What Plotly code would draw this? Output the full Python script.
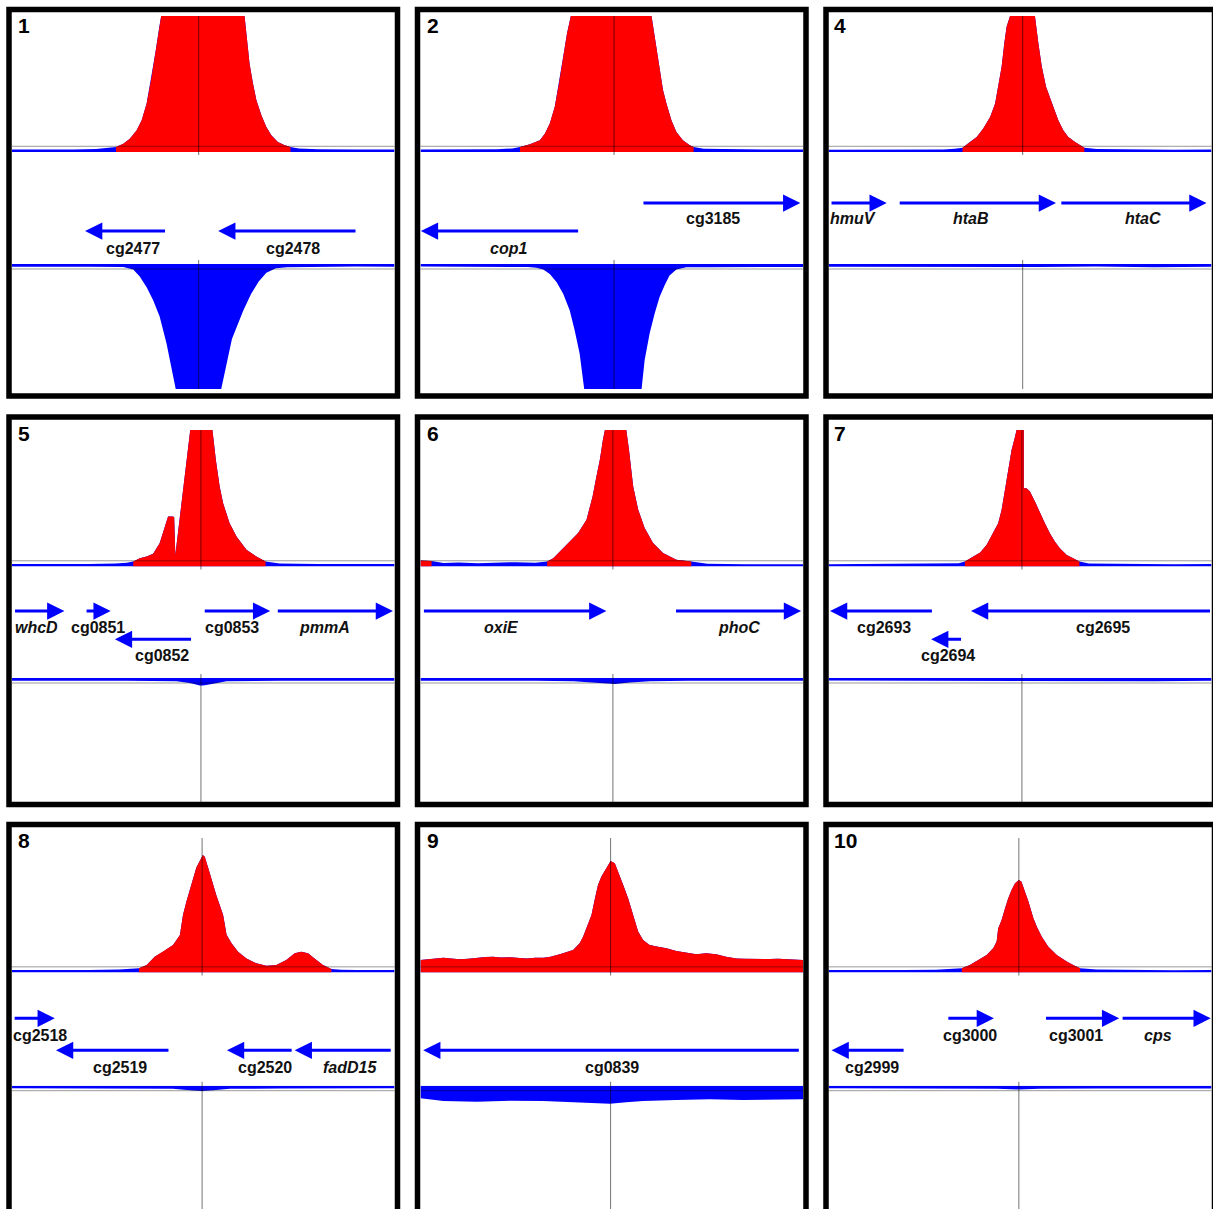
import plotly.graph_objects as go

W, H = 1213, 1209

# ---------------- DATA ----------------
# x = position inside the window (% of window width), y = signal (% of full scale; 100 = clipped)
PANEL_NUMBERS = ["1", "2", "4", "5", "6", "7", "8", "9", "10"]
CENTER_POS = [48.8, 50.6, 50.7, 49.4, 50.3, 50.5, 49.7, 49.7, 49.7]

P1_TOP_X = [0, 8, 16, 22, 26, 27.2, 29.1, 30.8, 32.6, 33.9, 35.2, 36.5, 37.6, 38.5, 39.0,
            60.8, 61.4, 62.1, 63.0, 63.9, 65.2, 66.5, 67.8, 69.5, 71.3, 72.8, 75, 80, 90, 100]
P1_TOP_Y = [1.8, 1.6, 1.8, 2.2, 3.0, 3.7, 6.1, 9.8, 16, 23.3, 35.6, 55.3, 75, 92, 100,
            100, 82.3, 65.1, 50.4, 38.1, 27, 18.4, 12.3, 7.4, 4.9, 3.7, 2.6, 2.0, 1.8, 1.8]
P1_RED = [(27.2, 72.8)]
P1_BOT_X = [0, 10, 20, 29.1, 31.7, 33.4, 35.2, 36.9, 38.6, 40.4, 41.7, 42.8,
            54.7, 56.5, 57.5, 58.8, 60.5, 62.5, 64.5, 66.5, 69.0, 72, 80, 90, 100]
P1_BOT_Y = [2.2, 2.0, 2.2, 2.5, 4.5, 10, 18.6, 29, 42, 63.7, 82.2, 100,
            100, 75, 60, 50, 37, 24, 14, 7, 3.5, 2.6, 2.2, 2.0, 2.2]
# (name, left, right, strand, row, italic, label centre)
P1_GENES = [("cg2477", 19.1, 40.4, "-", "B", False, 31.6),
            ("cg2478", 53.9, 90.2, "-", "B", False, 73.4)]

P2_TOP_X = [0, 10, 20, 24, 26.0, 28.6, 31.2, 32.5, 33.8, 35.1, 36.2, 37.3, 38.3, 39.3,
            60.4, 61.5, 62.4, 63.4, 64.3, 65.6, 66.9, 68.6, 70.4, 71.4, 74, 80, 90, 100]
P2_TOP_Y = [1.8, 1.8, 2.0, 2.6, 3.7, 5.7, 8.6, 13.5, 20.9, 33.2, 50.4, 70, 87.2, 100,
            100, 79.9, 62.7, 45.5, 35.6, 23.3, 14.7, 8.6, 4.9, 3.7, 2.4, 2.0, 1.8, 1.8]
P2_RED = [(26.0, 71.4)]
P2_BOT_X = [0, 10, 20, 28, 30.3, 32.1, 33.8, 35.6, 37.3, 39.0, 40.3, 41.6, 42.8,
            57.8, 58.6, 59.9, 61.2, 62.5, 63.8, 65.1, 66.9, 69.5, 75, 85, 100]
P2_BOT_Y = [2.0, 2.0, 2.2, 2.4, 3.0, 4.5, 8, 14.6, 23.9, 37.1, 53, 71.6, 100,
            100, 76.9, 55.7, 39.8, 26.5, 17.2, 9.3, 4.5, 2.6, 2.6, 2.4, 2.4]
P2_GENES = [("cop1", 0.1, 41.6, "-", "B", True, 22.9),
            ("cg3185", 57.9, 99.3, "+", "A", False, 76.4)]

P4_TOP_X = [0, 10, 20, 30, 33, 35.0, 36.9, 38.7, 40.4, 42.2, 43.5, 44.3, 45.2, 45.9, 46.5, 47.4,
            53.9, 54.8, 55.7, 56.8, 57.8, 59.1, 60.0, 61.3, 62.6, 64.4, 66.8, 70, 80, 90, 100]
P4_TOP_Y = [1.6, 1.5, 1.6, 1.8, 2.4, 3.2, 7.4, 11.1, 17.2, 25.8, 35.6, 47.9, 62.7, 79.9, 92.1, 100,
            100, 79.9, 62.7, 47.9, 40.5, 30.7, 23.3, 16, 11.1, 7.4, 3.2, 2.2, 1.8, 1.6, 1.8]
P4_RED = [(35.0, 66.8)]
P4_BOT_X = [0, 15, 30, 45, 50, 55, 70, 85, 100]
P4_BOT_Y = [2.2, 2.4, 2.0, 2.4, 2.8, 2.4, 2.0, 2.6, 2.2]
P4_GENES = [("hmuV", 0.4, 15.2, "+", "A", True, 6.5),
            ("htaB", 18.2, 59.4, "+", "A", True, 37.1),
            ("htaC", 60.4, 98.7, "+", "A", True, 82.2)]

P5_TOP_X = [0, 10, 20, 27, 30, 31.7, 33.4, 35.2, 36.9, 38.6, 40.1, 40.8, 42.1, 42.4, 42.7,
            43.4, 44.3, 45.2, 46.0, 46.6, 52.4, 53.3, 54.3, 55.2, 56.9, 58.7, 61.3, 63.9, 66.3,
            70, 80, 90, 100]
P5_TOP_Y = [1.8, 1.6, 1.8, 2.2, 2.8, 3.7, 6.1, 7.3, 9.3, 17.1, 31.7, 36.6, 36.6, 36.0, 8.5,
            25, 46, 67, 86, 100, 100, 78, 58.5, 46.3, 31.7, 22, 12.2, 7.3, 3.7,
            2.2, 1.8, 1.8, 1.8]
P5_RED = [(31.7, 66.3)]
P5_BOT_X = [0, 15, 30, 43.0, 46.5, 49.1, 50.0, 52.6, 56.1, 70, 85, 100]
P5_BOT_Y = [2.2, 2.0, 2.2, 2.5, 4.0, 6.0, 6.0, 4.5, 2.5, 2.2, 2.0, 2.2]
P5_GENES = [("whcD", 0.4, 13.7, "+", "A", True, 6.4),
            ("cg0851", 19.1, 25.8, "+", "A", False, 22.4),
            ("cg0852", 26.9, 47.2, "-", "B", False, 39.1),
            ("cg0853", 50.0, 67.5, "+", "A", False, 57.4),
            ("pmmA", 69.1, 99.6, "+", "A", True, 81.7)]

P6_TOP_X = [0, 2.9, 6, 10, 15, 20, 25, 30, 33.1, 34.7, 38.2, 41.2, 43.4, 45.0, 46.0, 46.9,
            47.7, 48.2, 53.8, 54.5, 55.6, 56.9, 58.6, 60.8, 63.4, 66.9, 70.8, 75, 85, 100]
P6_TOP_Y = [4.4, 4.0, 2.6, 3.0, 2.4, 3.0, 3.2, 2.8, 3.7, 6.1, 15.9, 24.5, 34.3, 51.5, 66.2, 78.4,
            93.1, 100, 100, 85.8, 58.8, 41.7, 28.2, 17.2, 9.8, 4.9, 3.7, 2.0, 1.6, 1.6]
P6_RED = [(0, 2.9), (33.1, 70.8)]
P6_BOT_X = [0, 15, 30, 40, 46.0, 50.8, 54.7, 60, 70, 85, 100]
P6_BOT_Y = [2.2, 2.0, 2.2, 2.5, 3.5, 4.8, 3.5, 2.5, 2.2, 2.0, 2.2]
P6_GENES = [("oxiE", 0.5, 48.6, "+", "A", True, 21.2),
            ("phoC", 66.4, 99.5, "+", "A", True, 83.2)]

P7_TOP_X = [0, 10, 20, 30, 34, 35.6, 37.8, 39.6, 41.3, 43.0, 44.3, 45.2, 46.1, 46.9, 47.8, 48.7,
            49.1, 51.0, 51.0, 51.7, 52.6, 53.9, 55.2, 56.5, 57.8, 59.1, 60.4, 62.2, 63.9, 65.5,
            68, 80, 90, 100]
P7_TOP_Y = [1.6, 1.8, 1.6, 1.8, 2.4, 3.7, 7.3, 10.2, 15.9, 24.4, 31.7, 41.5, 56.1, 70.7, 85.4, 95.1,
            100, 100, 57.3, 57.3, 54.9, 47.6, 39, 31.7, 24.4, 18.3, 13.4, 8.5, 6.1, 3.7,
            2.2, 1.8, 1.6, 1.8]
P7_RED = [(35.6, 65.5)]
P7_BOT_X = [0, 15, 30, 45, 55, 70, 85, 100]
P7_BOT_Y = [2.0, 2.2, 2.0, 2.4, 2.2, 2.4, 2.6, 2.2]
P7_GENES = [("cg2693", 0.4, 27.4, "-", "A", False, 14.6),
            ("cg2694", 26.8, 35.0, "-", "B", False, 31.3),
            ("cg2695", 37.2, 100.0, "-", "A", False, 71.8)]

P8_TOP_X = [0, 10, 20, 28, 31, 33.2, 35.2, 37.3, 39.5, 42.1, 43.9, 44.7, 45.6, 46.9, 48.2, 49.9,
            50.4, 51.7, 53.4, 55.2, 56.1, 57.4, 59.1, 61.3, 63.9, 66.5, 69.1, 71.7, 73.9, 75.6,
            77.4, 79.1, 81.3, 83.5, 86, 90, 100]
P8_TOP_Y = [1.8, 1.6, 1.8, 2.2, 2.6, 3.1, 5.6, 11.8, 15.5, 20.4, 27.9, 42.8, 52.7, 65.1, 78, 87.4,
            86.1, 74, 57.6, 42.8, 28, 21.7, 15.5, 10.5, 6.8, 5.1, 5.6, 9.3, 14.3, 15.5,
            14.3, 10.5, 5.6, 2.6, 2.0, 1.8, 1.8]
P8_RED = [(33.2, 83.5)]
P8_BOT_X = [0, 15, 30, 42, 46.5, 49.7, 52.6, 57, 70, 85, 100]
P8_BOT_Y = [2.0, 2.0, 2.2, 2.5, 3.6, 4.3, 3.6, 2.5, 2.2, 2.0, 2.0]
P8_GENES = [("cg2518", 0.3, 11.2, "+", "A", False, 7.3),
            ("cg2519", 11.5, 41.3, "-", "B", False, 28.2),
            ("cg2520", 56.2, 73.5, "-", "B", False, 66.1),
            ("fadD15", 73.9, 99.4, "-", "B", True, 88.4)]

P9_TOP_X = [0, 3, 6.0, 8, 10.3, 12.5, 14.7, 17, 19.0, 21, 23.4, 25.5, 27.7, 30, 32.1, 34, 36.4,
            39.9, 41.6, 42.5, 43.4, 44.7, 45.6, 46.4, 47.3, 48.6, 49.7, 50.8, 51.7, 53.0, 54.3,
            55.6, 56.9, 58.2, 59.9, 62.1, 64.3, 66.9, 69.5, 72.1, 74.7, 77.3, 79.9, 82.6, 84.5,
            86.9, 89, 91.3, 93.5, 95.6, 98, 100]
P9_TOP_Y = [9.3, 10.2, 11.0, 10.4, 9.8, 10.3, 11.0, 11.6, 11.8, 11.2, 11.3, 10.8, 10.5, 10.9, 11.0,
            11.8, 13.5, 16.7, 21.7, 26.6, 32.8, 42.8, 55.1, 65.1, 71.3, 77.4, 82.9, 81.2, 75, 65.1,
            55.1, 42.8, 30.4, 24.2, 20.4, 19.2, 18, 16, 15, 13.5, 14.3, 13.5, 11.8, 10.5, 10.2,
            10, 9.7, 10, 10.2, 10, 9.6, 9.3]
P9_RED = [(0, 100)]
P9_BOT_X = [0, 6.0, 14.7, 23.4, 32.1, 40.8, 49.5, 53.8, 58.2, 66.9, 75.6, 84.3, 93.0, 100]
P9_BOT_Y = [10.1, 12.3, 12.8, 12.0, 12.3, 13.3, 14.4, 13.3, 12.3, 11.5, 10.9, 11.5, 10.9, 10.9]
P9_GENES = [("cg0839", 0.7, 99.3, "-", "B", False, 50.1)]

P10_TOP_X = [0, 10, 20, 28, 32, 34.8, 36.9, 39.1, 41.3, 43.0, 43.9, 44.3, 45.2, 46.1, 46.9, 47.8,
             48.7, 49.7, 50.4, 51.3, 52.2, 53.5, 54.4, 55.7, 57.4, 59.6, 62.2, 63.9, 65.7,
             70, 80, 90, 100]
P10_TOP_Y = [1.8, 1.6, 1.8, 2.0, 2.4, 3.1, 5.6, 9.3, 13, 18, 23, 32.8, 39, 47.7, 55.1, 61.3,
             66.3, 68.8, 67.5, 60.1, 52.7, 40.3, 34, 26.6, 19.2, 13, 8.1, 5.6, 3.1,
             2.2, 1.8, 1.6, 1.8]
P10_RED = [(34.8, 65.7)]
P10_BOT_X = [0, 15, 30, 44, 49.7, 55, 70, 85, 100]
P10_BOT_Y = [2.0, 2.2, 2.0, 2.5, 3.0, 2.5, 2.2, 2.0, 2.2]
P10_GENES = [("cg2999", 0.8, 20.0, "-", "B", False, 11.3),
             ("cg3000", 30.9, 43.2, "+", "A", False, 36.9),
             ("cg3001", 56.4, 75.9, "+", "A", False, 64.6),
             ("cps", 76.4, 99.8, "+", "A", True, 86.1)]

THRESH_TOP = 4.2      # reference level drawn in the forward track
THRESH_BOT = 4.0      # reference level drawn in the reverse track

PANELS = [
    (P1_TOP_X, P1_TOP_Y, P1_RED, P1_BOT_X, P1_BOT_Y, P1_GENES),
    (P2_TOP_X, P2_TOP_Y, P2_RED, P2_BOT_X, P2_BOT_Y, P2_GENES),
    (P4_TOP_X, P4_TOP_Y, P4_RED, P4_BOT_X, P4_BOT_Y, P4_GENES),
    (P5_TOP_X, P5_TOP_Y, P5_RED, P5_BOT_X, P5_BOT_Y, P5_GENES),
    (P6_TOP_X, P6_TOP_Y, P6_RED, P6_BOT_X, P6_BOT_Y, P6_GENES),
    (P7_TOP_X, P7_TOP_Y, P7_RED, P7_BOT_X, P7_BOT_Y, P7_GENES),
    (P8_TOP_X, P8_TOP_Y, P8_RED, P8_BOT_X, P8_BOT_Y, P8_GENES),
    (P9_TOP_X, P9_TOP_Y, P9_RED, P9_BOT_X, P9_BOT_Y, P9_GENES),
    (P10_TOP_X, P10_TOP_Y, P10_RED, P10_BOT_X, P10_BOT_Y, P10_GENES),
]

# ---------------- LAYOUT GEOMETRY (pixels) ----------------
ROWS = [
    dict(frame=(9.5, 396), top=(16, 152), bot=(264, 389), A=(203, 219), B=(231, 248.3)),
    dict(frame=(417, 804.5), top=(430, 566.5), bot=(678, 803), A=(611, 627.2), B=(639.3, 655.8)),
    dict(frame=(824.5, 1212), top=(838, 972.5), bot=(1085.7, 1209), A=(1018.3, 1035.5), B=(1050.3, 1067.2)),
]
COLS = [
    dict(frame=(9, 397.5), inner=(12, 394.5)),
    dict(frame=(417.5, 806), inner=(420.5, 803)),
    dict(frame=(826, 1214.5), inner=(828.5, 1211.5)),
]
BOT_PX_PER_UNIT = 1.25
BORDER_W = 5.5
RED = "#ff0000"
BLUE = "#0000ff"
FONT = "Liberation Sans, Arial, Helvetica, sans-serif"


def pxx(px):
    return px / W


def pxy(py):
    return 1 - py / H


def ref(kind, k):
    return kind if k == 1 else f"{kind}{k}"


fig = go.Figure()
layout = dict(width=W, height=H, margin=dict(l=0, r=0, t=0, b=0),
              paper_bgcolor="white", plot_bgcolor="white", showlegend=False,
              hovermode=False)
shapes, annotations = [], []

for i, (tx, ty, reds, bx, by, genes) in enumerate(PANELS):
    r, c = divmod(i, 3)
    R, C = ROWS[r], COLS[c]
    xi = i + 1
    yt, yg, yb = 3 * i + 1, 3 * i + 2, 3 * i + 3
    xr = ref("x", xi)
    ytr, ygr, ybr = ref("y", yt), ref("y", yg), ref("y", yb)

    top_zero, top_top = R["top"][1], R["top"][0]
    bot_zero, bot_bot = R["bot"]
    gene_h = bot_zero - top_zero

    layout[ref("xaxis", xi)] = dict(domain=[pxx(C["inner"][0]), pxx(C["inner"][1])],
                                    range=[0, 100], visible=False, anchor=ytr, fixedrange=True)
    layout[ref("yaxis", yt)] = dict(domain=[pxy(top_zero), pxy(top_top)], range=[0, 100],
                                    visible=False, anchor=xr, fixedrange=True)
    layout[ref("yaxis", yg)] = dict(domain=[pxy(bot_zero), pxy(top_zero)], range=[gene_h, 0],
                                    visible=False, anchor=xr, fixedrange=True)
    layout[ref("yaxis", yb)] = dict(domain=[max(0, pxy(bot_bot)), pxy(bot_zero)],
                                    range=[(bot_bot - bot_zero) / BOT_PX_PER_UNIT, 0],
                                    visible=False, anchor=xr, fixedrange=True)

    # forward (top) track: blue base everywhere, red inside enriched intervals
    fig.add_trace(go.Scatter(x=tx, y=ty, mode="lines", fill="tozeroy", fillcolor=BLUE,
                             line=dict(width=0, color=BLUE), xaxis=xr, yaxis=ytr))
    for lo, hi in reds:
        sx = [x for x in tx if lo <= x <= hi]
        sy = [y for x, y in zip(tx, ty) if lo <= x <= hi]
        fig.add_trace(go.Scatter(x=sx, y=sy, mode="lines", fill="tozeroy", fillcolor=RED,
                                 line=dict(width=0, color=RED), xaxis=xr, yaxis=ytr))
    # reverse (bottom) track
    fig.add_trace(go.Scatter(x=bx, y=by, mode="lines", fill="tozeroy", fillcolor=BLUE,
                             line=dict(width=0, color=BLUE), xaxis=xr, yaxis=ybr))

    # reference lines
    shapes.append(dict(type="line", xref=f"{xr} domain", x0=0, x1=1, yref=ytr,
                       y0=THRESH_TOP, y1=THRESH_TOP, line=dict(color="rgba(0,0,0,0.4)", width=1)))
    shapes.append(dict(type="line", xref=f"{xr} domain", x0=0, x1=1, yref=ybr,
                       y0=THRESH_BOT, y1=THRESH_BOT, line=dict(color="rgba(0,0,0,0.4)", width=1)))
    cx = CENTER_POS[i]
    top_h = top_zero - top_top
    bot_h = bot_bot - bot_zero
    shapes.append(dict(type="line", xref=xr, x0=cx, x1=cx, yref=f"{ytr} domain",
                       y0=-3 / top_h, y1=1, line=dict(color="rgba(0,0,0,0.55)", width=1)))
    shapes.append(dict(type="line", xref=xr, x0=cx, x1=cx, yref=f"{ybr} domain",
                       y0=0, y1=1 + 4 / bot_h, line=dict(color="rgba(0,0,0,0.55)", width=1)))

    # genes
    for name, left, right, strand, row, italic, lab_x in genes:
        arrow_y = R[row][0] - top_zero
        label_y = R[row][1] - top_zero
        tail, tip = (left, right) if strand == "+" else (right, left)
        annotations.append(dict(x=tip, y=arrow_y, ax=tail, ay=arrow_y, xref=xr, yref=ygr,
                                axref=xr, ayref=ygr, text="", showarrow=True, arrowhead=2,
                                arrowsize=1.15, arrowwidth=3, arrowcolor=BLUE, standoff=0))
        txt = f"<b><i>{name}</i></b>" if italic else f"<b>{name}</b>"
        annotations.append(dict(x=lab_x, y=label_y, xref=xr, yref=ygr, text=txt, showarrow=False,
                                xanchor="center", yanchor="middle",
                                font=dict(family=FONT, size=16, color="#111111")))

    # panel frame and number
    fx0, fx1 = C["frame"]
    fy0, fy1 = R["frame"]
    shapes.append(dict(type="rect", xref="paper", yref="paper", x0=pxx(fx0), x1=pxx(fx1),
                       y0=pxy(fy1), y1=pxy(fy0), line=dict(color="black", width=BORDER_W),
                       fillcolor="rgba(0,0,0,0)", layer="above"))
    annotations.append(dict(x=pxx(C["inner"][0] + 4), y=pxy(fy0 + BORDER_W / 2 + 13.5),
                            xref="paper", yref="paper", text=f"<b>{PANEL_NUMBERS[i]}</b>",
                            showarrow=False, xanchor="left", yanchor="middle",
                            font=dict(family=FONT, size=21, color="black")))

layout["shapes"] = shapes
layout["annotations"] = annotations
fig.update_layout(**layout)
fig.write_html("out.html", config={"displayModeBar": False},
               post_script="document.body.style.margin='0';document.body.style.padding='0';")
